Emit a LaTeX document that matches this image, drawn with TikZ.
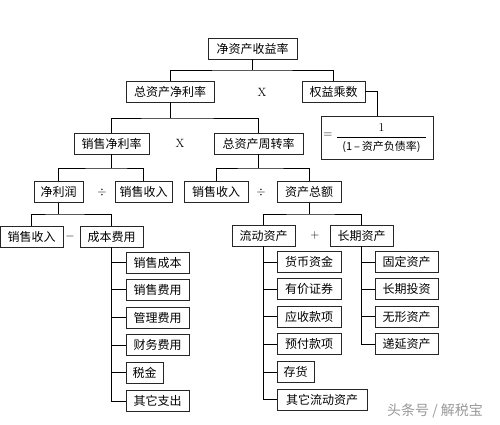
\documentclass[tikz,border=0pt]{standalone}
\usepackage{fontspec}
\newfontfamily\cjk{Noto Sans CJK SC}
\begin{document}
\begin{tikzpicture}[x=1pt,y=-1pt,
  box/.style={draw=black!85,line width=0.9pt,minimum height=21pt,inner xsep=2pt,inner ysep=0pt,font=\cjk\fontsize{12}{14}\selectfont,anchor=center},
  op/.style={font=\fontsize{12}{14}\selectfont,inner sep=0pt},
  conn/.style={line width=0.8pt,black}]
\useasboundingbox (0,0) rectangle (500,424);
% level 0
\node[box,minimum width=89pt] (roe) at (252.5,48.5) {净资产收益率};
% level 1
\node[box,minimum width=88pt] (zzjl) at (170,91.5) {总资产净利率};
\node[op] (x1) at (262,92) {X};
\node[box,minimum width=63pt] (qy) at (333.5,91.5) {权益乘数};
\node[draw=black!85,line width=0.9pt,minimum width=112pt,minimum height=43pt,inner sep=0pt] (fbox) at (377,137.5) {};
\node[op] (eq) at (328,135.5) {=};
\node[op] (num) at (381.5,128) {1};
\node[op,font=\cjk\fontsize{11}{13}\selectfont] (den) at (381.5,147) {(1\,–\,资产负债率)};
\draw[line width=0.6pt] (337,137) -- (426,137);
% level 2
\node[box,minimum width=75pt] (xsjl) at (111.5,143.5) {销售净利率};
\node[op] (x2) at (180,143.5) {X};
\node[box,minimum width=89pt] (zzzz) at (258.5,143.5) {总资产周转率};
% level 3
\node[box,minimum width=49pt] (jlr) at (58.5,192) {净利润};
\node[op] (d1) at (102,192) {$\div$};
\node[box,minimum width=57pt] (xssr1) at (143.5,192) {销售收入};
\node[box,minimum width=64pt] (xssr2) at (216,192) {销售收入};
\node[op] (d2) at (261,192) {$\div$};
\node[box,minimum width=64pt] (zcze) at (309,192) {资产总额};
% level 4
\node[box,minimum width=63pt] (xssr3) at (31.5,236.5) {销售收入};
\node[op] (m1) at (70,236.5) {$-$};
\node[box,minimum width=63pt] (cbfy) at (111.5,236.5) {成本费用};
\node[box,minimum width=63pt] (ldzc) at (263.5,235.5) {流动资产};
\node[op] (p1) at (315,235.5) {$+$};
\node[box,minimum width=63pt] (cqzc) at (361.5,235.5) {长期资产};
% cost children
\node[box,minimum width=63pt] (c1) at (157.5,262.5) {销售成本};
\node[box,minimum width=63pt] (c2) at (157.5,289.5) {销售费用};
\node[box,minimum width=63pt] (c3) at (157.5,317.5) {管理费用};
\node[box,minimum width=63pt] (c4) at (157.5,345) {财务费用};
\node[box,minimum width=37pt] (c5) at (144.5,372.5) {税金};
\node[box,minimum width=63pt] (c6) at (157.5,401) {其它支出};
% current asset children
\node[box,minimum width=64pt] (l1) at (309,262) {货币资金};
\node[box,minimum width=64pt] (l2) at (309,289) {有价证券};
\node[box,minimum width=64pt] (l3) at (309,316.5) {应收款项};
\node[box,minimum width=64pt] (l4) at (309,344) {预付款项};
\node[box,minimum width=37pt] (l5) at (295.5,372) {存货};
\node[box,minimum width=90pt] (l6) at (322,399.5) {其它流动资产};
% long-term asset children
\node[box,minimum width=63pt] (g1) at (406.5,262) {固定资产};
\node[box,minimum width=63pt] (g2) at (406.5,289) {长期投资};
\node[box,minimum width=63pt] (g3) at (406.5,316.5) {无形资产};
\node[box,minimum width=63pt] (g4) at (406.5,344) {递延资产};
% watermark
\node[font=\cjk\fontsize{14}{16}\selectfont,text=black!40,inner sep=0pt] (wm) at (435,411) {头条号 / 解税宝};
% connectors
\draw[conn] (roe.south) -- (roe.south |- 0,70);
\draw[conn] (zzjl.north) |- (roe.south |- 0,70) -| (qy.north);
\draw[conn] (qy.east) -| (fbox.north);
\draw[conn] (zzjl.south) -- (zzjl.south |- 0,118);
\draw[conn] (xsjl.north) |- (zzjl.south |- 0,118) -| (zzzz.north);
\draw[conn] (xsjl.south) -- (xsjl.south |- 0,168);
\draw[conn] (jlr.north) |- (xsjl.south |- 0,168) -| (xssr1.north);
\draw[conn] (zzzz.south) -- (zzzz.south |- 0,168);
\draw[conn] (xssr2.north) |- (zzzz.south |- 0,168) -| (zcze.north);
\draw[conn] (jlr.south) -- (jlr.south |- 0,214);
\draw[conn] (xssr3.north) |- (jlr.south |- 0,214) -| (cbfy.north);
\draw[conn] (zcze.south) -- (zcze.south |- 0,214);
\draw[conn] (ldzc.north) |- (zcze.south |- 0,214) -| (cqzc.north);
\draw[conn] (cbfy.south) |- (c6.west);
\foreach \n in {c1,c2,c3,c4,c5} \draw[conn] (\n.west) -- (cbfy.south |- \n.west);
\draw[conn] (ldzc.south) |- (l6.west);
\foreach \n in {l1,l2,l3,l4,l5} \draw[conn] (\n.west) -- (ldzc.south |- \n.west);
\draw[conn] (cqzc.south) |- (g4.west);
\foreach \n in {g1,g2,g3} \draw[conn] (\n.west) -- (cqzc.south |- \n.west);
\end{tikzpicture}
\end{document}
